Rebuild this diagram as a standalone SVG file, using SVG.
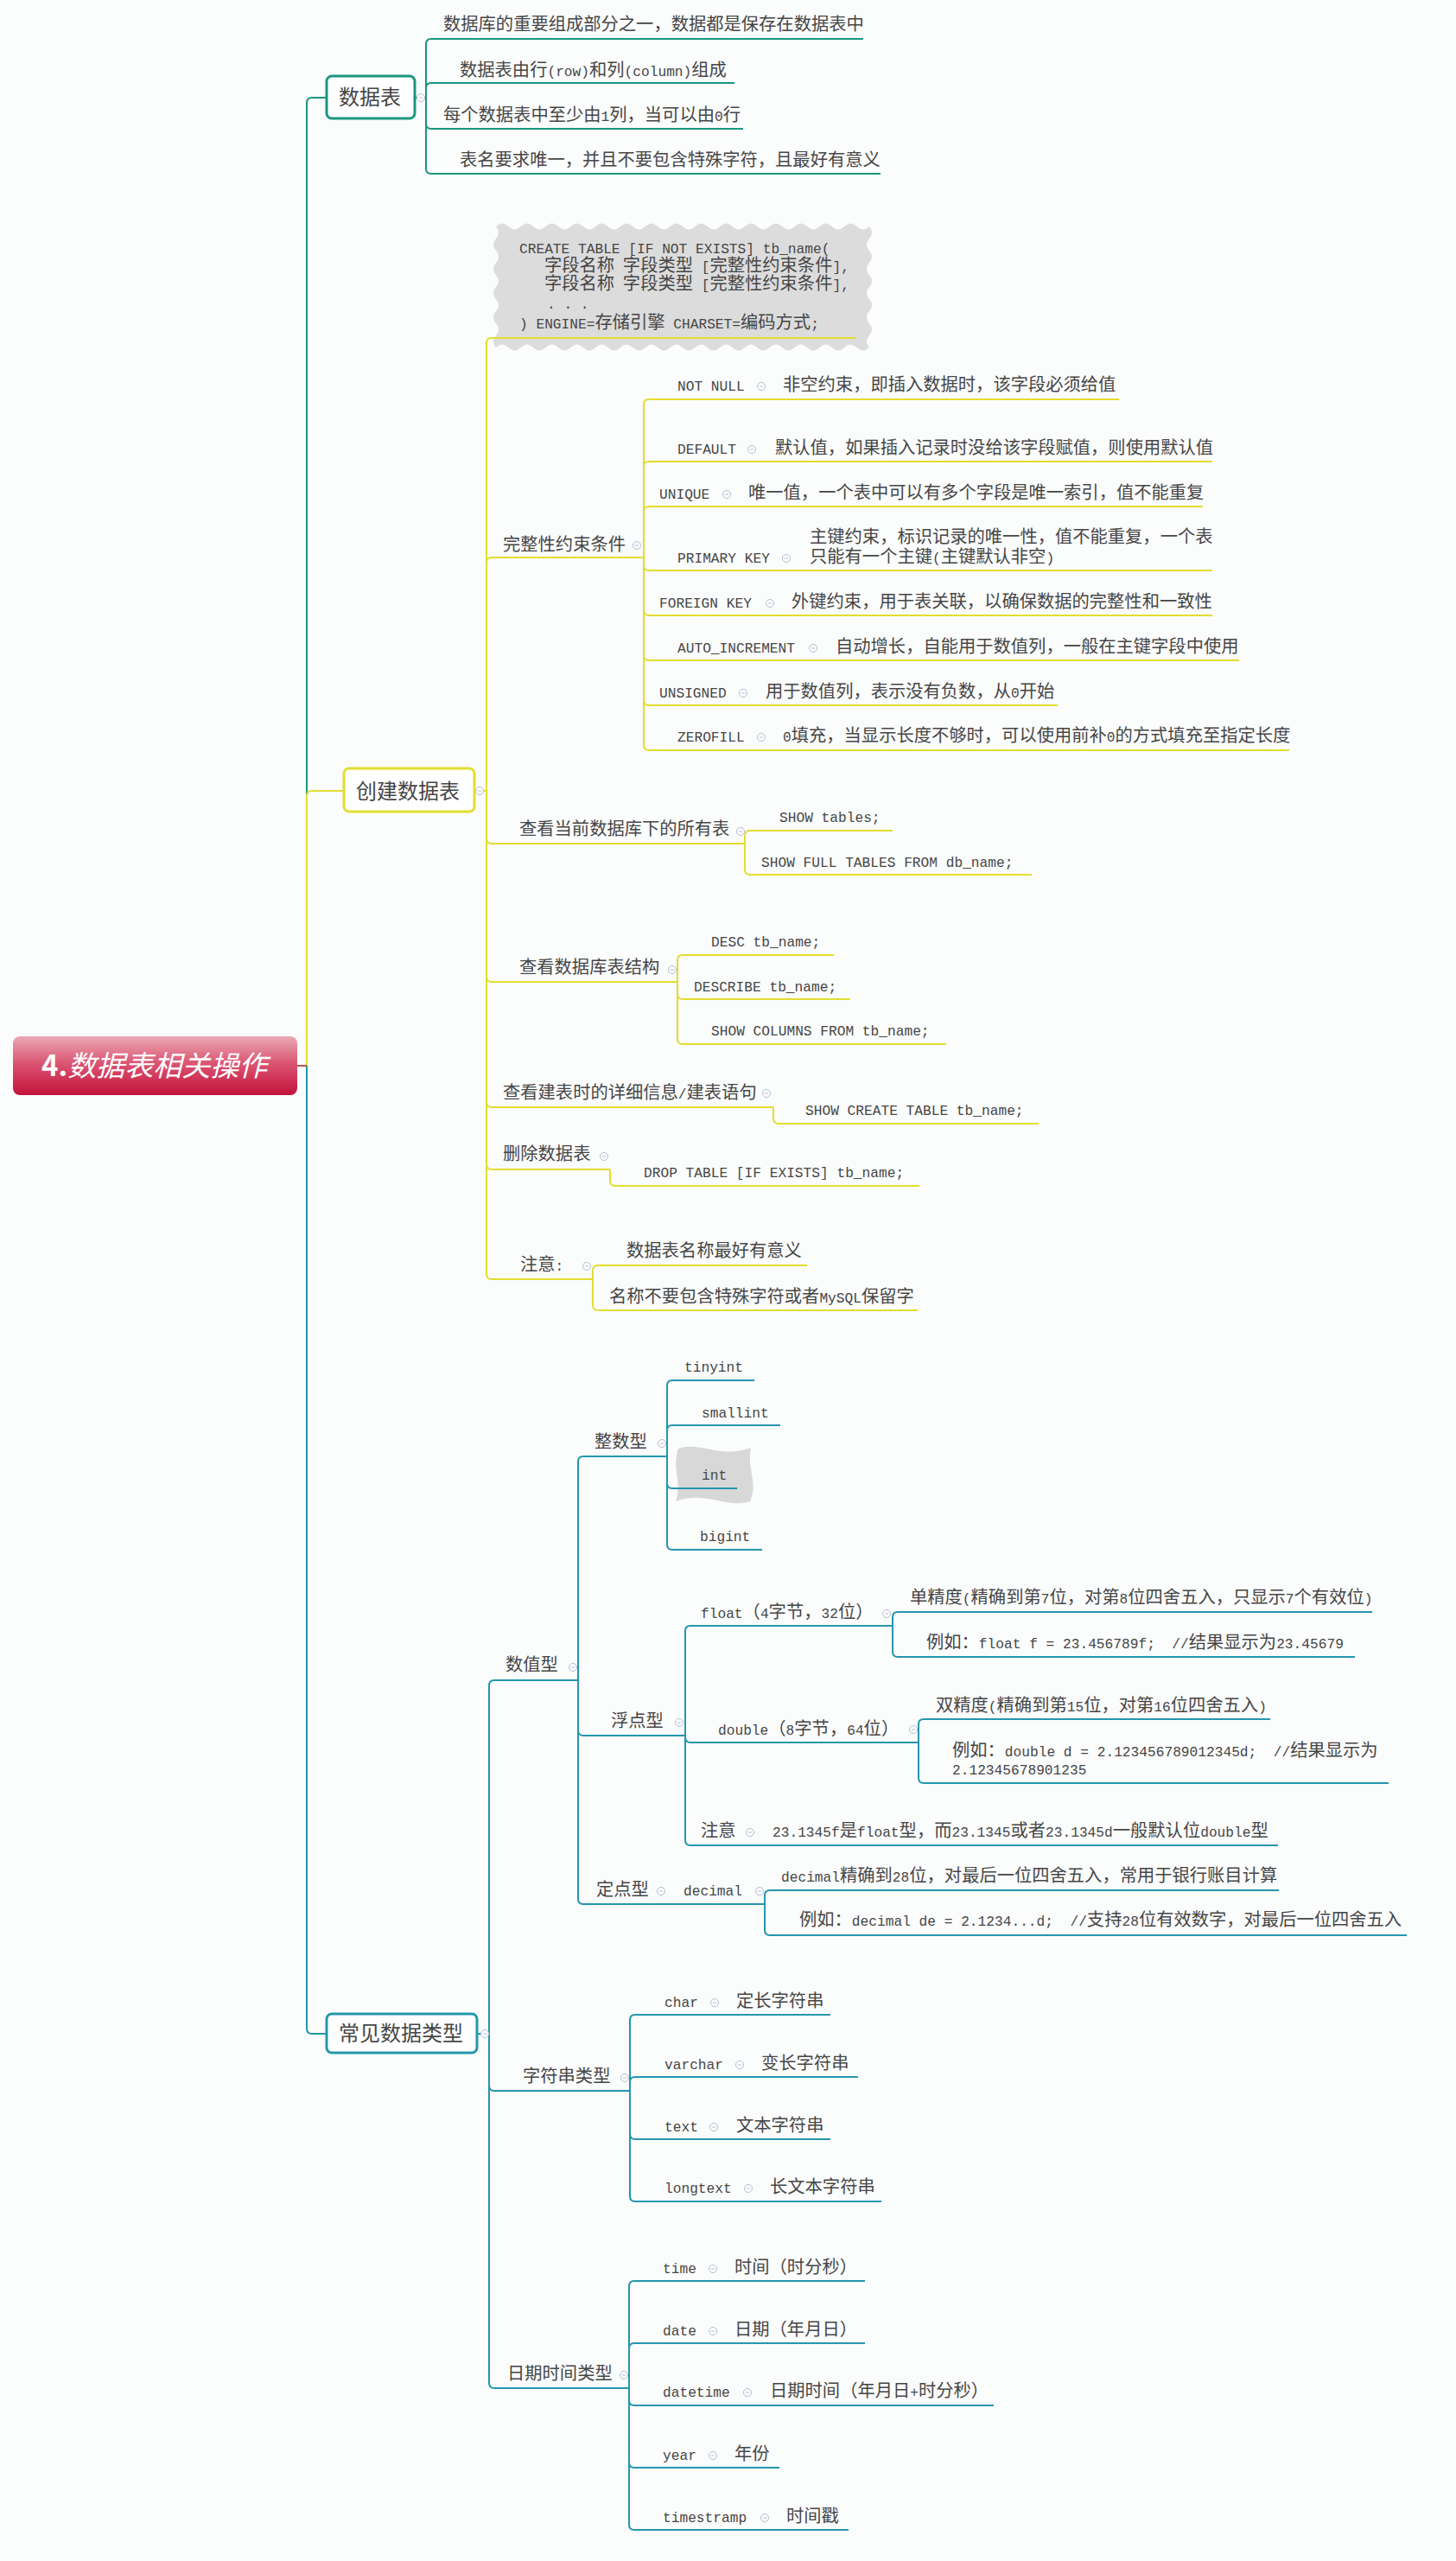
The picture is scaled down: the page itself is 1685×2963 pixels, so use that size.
<svg xmlns="http://www.w3.org/2000/svg" xmlns:xlink="http://www.w3.org/1999/xlink" width="1685" height="2963" viewBox="0 0 1685 2963">
<style>
.t{font-family:"Noto Sans CJK SC","Liberation Sans",sans-serif;font-size:20.3px;fill:#464646;white-space:pre}
.m{font-family:"Liberation Mono","Noto Sans CJK SC",monospace;font-size:16.2px}
.bx{font-size:24px}
.l{fill:none;stroke-width:2}
.lg{stroke:#18977f}
.ly{stroke:#e2de30}
.lb{stroke:#2497ad}
</style>
<defs>
<linearGradient id="rg" x1="0" y1="0" x2="0" y2="1">
<stop offset="0" stop-color="#ebaab6"/>
<stop offset="0.45" stop-color="#db5673"/>
<stop offset="1" stop-color="#c3123b"/>
</linearGradient>
<g id="col"><circle cx="0" cy="0" r="4.5" fill="#fff" stroke="#b3bbd3" stroke-width="1"/><path d="M-2.3,0H2.3" stroke="#b3bbd3" stroke-width="1"/></g>
</defs>
<rect width="1685" height="2963" fill="#fbfcfc"/>

<g id="connectors">
<path class="l lg" d="M355,1233V119Q355,113 361,113H378"/>
<path class="l lb" d="M355,1233V2347Q355,2353 361,2353H378"/>
<path class="l ly" d="M355,1233V921Q355,915 361,915H398"/>
<path class="l" stroke="#b5574e" d="M344,1233H355"/>
<g class="l lg">
<path d="M480,113H493"/>
<path d="M493,113V51Q493,45 499,45H999"/>
<path d="M493,113V102Q493,96 499,96H850"/>
<path d="M493,113V143Q493,149 499,149H860"/>
<path d="M493,113V195Q493,201 499,201H1019"/>
</g>
<g class="l ly">
<path d="M549,915H563"/>
<path d="M563,915V397Q563,391 569,391H991"/>
<path d="M563,915V651Q563,645 569,645H745"/>
<path d="M563,915V970Q563,976 569,976H862"/>
<path d="M563,915V1130Q563,1136 569,1136H784"/>
<path d="M563,915V1275Q563,1281 569,1281H895"/>
<path d="M563,915V1347Q563,1353 569,1353H706"/>
<path d="M563,915V1474Q563,1480 569,1480H686"/>
<path d="M745,645V468Q745,462 751,462H1295"/>
<path d="M745,645V540Q745,534 751,534H1403"/>
<path d="M745,645V592Q745,586 751,586H1392"/>
<path d="M745,645V654Q745,660 751,660H1403"/>
<path d="M745,645V706Q745,712 751,712H1403"/>
<path d="M745,645V758Q745,764 751,764H1434"/>
<path d="M745,645V810Q745,816 751,816H1224"/>
<path d="M745,645V862Q745,868 751,868H1492"/>
<path d="M862,976V967Q862,961 868,961H1033"/>
<path d="M862,976V1006Q862,1012 868,1012H1194"/>
<path d="M784,1136V1111Q784,1105 790,1105H965"/>
<path d="M784,1136V1150Q784,1156 790,1156H984"/>
<path d="M784,1136V1202Q784,1208 790,1208H1095"/>
<path d="M895,1281V1294Q895,1300 901,1300H1202"/>
<path d="M706,1353V1366Q706,1372 712,1372H1064"/>
<path d="M686,1480V1470Q686,1464 692,1464H934"/>
<path d="M686,1480V1510Q686,1516 692,1516H1062"/>
</g>
<g class="l lb">
<path d="M552,2353H566"/>
<path d="M566,2353V1950Q566,1944 572,1944H669"/>
<path d="M566,2353V2413Q566,2419 572,2419H729"/>
<path d="M566,2353V2757Q566,2763 572,2763H728"/>
<path d="M669,1944V1691Q669,1685 675,1685H772"/>
<path d="M669,1944V2002Q669,2008 675,2008H793"/>
<path d="M669,1944V2197Q669,2203 675,2203H885"/>
<path d="M772,1685V1603Q772,1597 778,1597H873"/>
<path d="M772,1685V1655Q772,1649 778,1649H903"/>
<path d="M772,1685V1716Q772,1722 778,1722H853"/>
<path d="M772,1685V1787Q772,1793 778,1793H882"/>
<path d="M793,2008V1887Q793,1881 799,1881H1033"/>
<path d="M793,2008V2010Q793,2016 799,2016H1063"/>
<path d="M793,2008V2129Q793,2135 799,2135H1479"/>
<path d="M1033,1881V1871Q1033,1865 1039,1865H1588"/>
<path d="M1033,1881V1911Q1033,1917 1039,1917H1568"/>
<path d="M1063,2016V1995Q1063,1989 1069,1989H1470"/>
<path d="M1063,2016V2057Q1063,2063 1069,2063H1607"/>
<path d="M885,2203V2193Q885,2187 891,2187H1480"/>
<path d="M885,2203V2233Q885,2239 891,2239H1628"/>
<path d="M729,2419V2337Q729,2331 735,2331H961"/>
<path d="M729,2419V2409Q729,2403 735,2403H993"/>
<path d="M729,2419V2469Q729,2475 735,2475H961"/>
<path d="M729,2419V2541Q729,2547 735,2547H1020"/>
<path d="M728,2763V2645Q728,2639 734,2639H1001"/>
<path d="M728,2763V2717Q728,2711 734,2711H1001"/>
<path d="M728,2763V2777Q728,2783 734,2783H1150"/>
<path d="M728,2763V2849Q728,2855 734,2855H902"/>
<path d="M728,2763V2921Q728,2927 734,2927H982"/>
</g>
</g>

<g id="root">
<rect x="15" y="1199" width="329" height="68" rx="8" fill="url(#rg)"/>
<text x="48" y="1245" font-family="'Noto Sans CJK SC','Liberation Sans',sans-serif" font-size="33" fill="#fff"><tspan font-weight="bold">4.</tspan><tspan font-style="italic">数据表相关操作</tspan></text>
</g>

<g id="n-shujubiao">
<rect x="378" y="88" width="102" height="49" rx="6" fill="#fff" stroke="#18977f" stroke-width="3"/>
<text class="t bx" x="392" y="121">数据表</text>
<use href="#col" x="487" y="113"/>
</g>
<g id="n-sj1"><text class="t" x="513" y="35">数据库的重要组成部分之一，数据都是保存在数据表中</text></g>
<g id="n-sj2"><text class="t" x="532" y="88">数据表由行<tspan class="m">(row)</tspan>和列<tspan class="m">(column)</tspan>组成</text></g>
<g id="n-sj3"><text class="t" x="513" y="140">每个数据表中至少由<tspan class="m">1</tspan>列，当可以由<tspan class="m">0</tspan>行</text></g>
<g id="n-sj4"><text class="t" x="532" y="192">表名要求唯一，并且不要包含特殊字符，且最好有意义</text></g>

<g id="n-create">
<rect x="398" y="889" width="151" height="50" rx="6" fill="#fff" stroke="#e2de30" stroke-width="3"/>
<text class="t bx" x="412" y="924">创建数据表</text>
<use href="#col" x="555" y="915"/>
</g>

<g id="n-code">
<path d="M574,262q7.2,-7 14.4,0t14.4,0t14.4,0t14.4,0t14.4,0t14.4,0t14.4,0t14.4,0t14.4,0t14.4,0t14.4,0t14.4,0t14.4,0t14.4,0t14.4,0t14.4,0t14.4,0t14.4,0t14.4,0t14.4,0t14.4,0t14.4,0t14.4,0t14.4,0t14.4,0t14.4,0t14.4,0t14.4,0t14.4,0t14.4,0q6,7 0,14t0,14t0,14t0,14t0,14t0,14t0,14t0,14t0,14t0,14q-7.2,7 -14.4,0t-14.4,0t-14.4,0t-14.4,0t-14.4,0t-14.4,0t-14.4,0t-14.4,0t-14.4,0t-14.4,0t-14.4,0t-14.4,0t-14.4,0t-14.4,0t-14.4,0t-14.4,0t-14.4,0t-14.4,0t-14.4,0t-14.4,0t-14.4,0t-14.4,0t-14.4,0t-14.4,0t-14.4,0t-14.4,0t-14.4,0t-14.4,0t-14.4,0t-14.4,0q-6,-7 0,-14t0,-14t0,-14t0,-14t0,-14t0,-14t0,-14t0,-14t0,-14t0,-14Z" fill="#dcdcdc"/>
<path class="l ly" d="M569,391H991"/>
<text class="t"><tspan class="m" x="601" y="293">CREATE TABLE [IF NOT EXISTS] tb_name(</tspan><tspan x="630" y="314">字段名称<tspan class="m"> </tspan>字段类型<tspan class="m"> [</tspan>完整性约束条件<tspan class="m">],</tspan></tspan><tspan x="630" y="335">字段名称<tspan class="m"> </tspan>字段类型<tspan class="m"> [</tspan>完整性约束条件<tspan class="m">],</tspan></tspan><tspan class="m" x="633" y="357">. . .</tspan><tspan x="601" y="380"><tspan class="m">) ENGINE=</tspan>存储引擎<tspan class="m"> CHARSET=</tspan>编码方式<tspan class="m">;</tspan></tspan></text>
</g>

<g id="n-wanzheng"><text class="t" x="582" y="637">完整性约束条件</text><use href="#col" x="737" y="631"/></g>
<g id="n-notnull"><text class="t m" x="784" y="452">NOT NULL</text><use href="#col" x="881" y="447"/><text class="t" x="906" y="452">非空约束，即插入数据时，该字段必须给值</text></g>
<g id="n-default"><text class="t m" x="784" y="525">DEFAULT</text><use href="#col" x="870" y="520"/><text class="t" x="897" y="525">默认值，如果插入记录时没给该字段赋值，则使用默认值</text></g>
<g id="n-unique"><text class="t m" x="763" y="577">UNIQUE</text><use href="#col" x="841" y="572"/><text class="t" x="866" y="577">唯一值，一个表中可以有多个字段是唯一索引，值不能重复</text></g>
<g id="n-primary"><text class="t m" x="784" y="651">PRIMARY KEY</text><use href="#col" x="910" y="646"/><text class="t"><tspan x="937" y="628">主键约束，标识记录的唯一性，值不能重复，一个表</tspan><tspan x="937" y="651">只能有一个主键<tspan class="m">(</tspan>主键默认非空<tspan class="m">)</tspan></tspan></text></g>
<g id="n-foreign"><text class="t m" x="763" y="703">FOREIGN KEY</text><use href="#col" x="891" y="698"/><text class="t" x="916" y="703">外键约束，用于表关联，以确保数据的完整性和一致性</text></g>
<g id="n-auto"><text class="t m" x="784" y="755">AUTO_INCREMENT</text><use href="#col" x="941" y="750"/><text class="t" x="967" y="755">自动增长，自能用于数值列，一般在主键字段中使用</text></g>
<g id="n-unsigned"><text class="t m" x="763" y="807">UNSIGNED</text><use href="#col" x="860" y="802"/><text class="t" x="886" y="807">用于数值列，表示没有负数，从<tspan class="m">0</tspan>开始</text></g>
<g id="n-zerofill"><text class="t m" x="784" y="858">ZEROFILL</text><use href="#col" x="881" y="853"/><text class="t" x="906" y="858"><tspan class="m">0</tspan>填充，当显示长度不够时，可以使用前补<tspan class="m">0</tspan>的方式填充至指定长度</text></g>

<g id="n-showall"><text class="t" x="601" y="966">查看当前数据库下的所有表</text><use href="#col" x="857" y="962"/></g>
<g id="n-showtables"><text class="t m" x="902" y="951">SHOW tables;</text></g>
<g id="n-showfull"><text class="t m" x="881" y="1003">SHOW FULL TABLES FROM db_name;</text></g>
<g id="n-struct"><text class="t" x="601" y="1126">查看数据库表结构</text><use href="#col" x="778" y="1122"/></g>
<g id="n-desc"><text class="t m" x="823" y="1095">DESC tb_name;</text></g>
<g id="n-describe"><text class="t m" x="803" y="1147">DESCRIBE tb_name;</text></g>
<g id="n-showcol"><text class="t m" x="823" y="1198">SHOW COLUMNS FROM tb_name;</text></g>
<g id="n-createinfo"><text class="t" x="582" y="1271">查看建表时的详细信息<tspan class="m">/</tspan>建表语句</text><use href="#col" x="887" y="1265"/></g>
<g id="n-showcreate"><text class="t m" x="932" y="1290">SHOW CREATE TABLE tb_name;</text></g>
<g id="n-drop"><text class="t" x="582" y="1342">删除数据表</text><use href="#col" x="699" y="1338"/></g>
<g id="n-dropsql"><text class="t m" x="745" y="1362">DROP TABLE [IF EXISTS] tb_name;</text></g>
<g id="n-note1"><text class="t" x="602" y="1470">注意<tspan class="m">:</tspan></text><use href="#col" x="679" y="1465"/></g>
<g id="n-note1a"><text class="t" x="725" y="1454">数据表名称最好有意义</text></g>
<g id="n-note1b"><text class="t" x="705" y="1507">名称不要包含特殊字符或者<tspan class="m">MySQL</tspan>保留字</text></g>

<g id="n-types">
<rect x="378" y="2330" width="174" height="45" rx="6" fill="#fff" stroke="#2497ad" stroke-width="3"/>
<text class="t bx" x="392" y="2361">常见数据类型</text>
<use href="#col" x="561" y="2353"/>
</g>
<g id="n-numeric"><text class="t" x="585" y="1933">数值型</text><use href="#col" x="663" y="1929"/></g>
<g id="n-integer"><text class="t" x="688" y="1675">整数型</text><use href="#col" x="766" y="1670"/></g>
<g id="n-tinyint"><text class="t m" x="792" y="1587">tinyint</text></g>
<g id="n-smallint"><text class="t m" x="812" y="1640">smallint</text></g>
<g id="n-int"><path d="M785,1676C810,1667 832,1688 869,1675C864,1700 878,1716 868,1737C842,1746 815,1724 782,1737C790,1716 777,1700 785,1676Z" fill="#d8d8d8"/><path class="l lb" d="M778,1722H853"/><text class="t m" x="812" y="1712">int</text></g>
<g id="n-bigint"><text class="t m" x="810" y="1783">bigint</text></g>
<g id="n-floatpt"><text class="t" x="707" y="1998">浮点型</text><use href="#col" x="786" y="1993"/></g>
<g id="n-float"><text class="t" x="811" y="1872"><tspan class="m">float</tspan>（<tspan class="m">4</tspan>字节，<tspan class="m">32</tspan>位）</text><use href="#col" x="1026" y="1867"/></g>
<g id="n-float1"><text class="t" x="1053" y="1855">单精度<tspan class="m">(</tspan>精确到第<tspan class="m">7</tspan>位，对第<tspan class="m">8</tspan>位四舍五入，只显示<tspan class="m">7</tspan>个有效位<tspan class="m">)</tspan></text></g>
<g id="n-float2"><text class="t" x="1072" y="1907">例如：<tspan class="m">float f = 23.456789f;  //</tspan>结果显示为<tspan class="m">23.45679</tspan></text></g>
<g id="n-double"><text class="t" x="831" y="2007"><tspan class="m">double</tspan>（<tspan class="m">8</tspan>字节，<tspan class="m">64</tspan>位）</text><use href="#col" x="1057" y="2001"/></g>
<g id="n-double1"><text class="t" x="1083" y="1980">双精度<tspan class="m">(</tspan>精确到第<tspan class="m">15</tspan>位，对第<tspan class="m">16</tspan>位四舍五入<tspan class="m">)</tspan></text></g>
<g id="n-double2"><text class="t"><tspan x="1102" y="2032">例如：<tspan class="m">double d = 2.123456789012345d;  //</tspan>结果显示为</tspan><tspan class="m" x="1102" y="2053">2.12345678901235</tspan></text></g>
<g id="n-note2"><text class="t" x="811" y="2125">注意</text><use href="#col" x="868" y="2120"/><text class="t" x="894" y="2125"><tspan class="m">23.1345f</tspan>是<tspan class="m">float</tspan>型，而<tspan class="m">23.1345</tspan>或者<tspan class="m">23.1345d</tspan>一般默认位<tspan class="m">double</tspan>型</text></g>
<g id="n-fixed"><text class="t" x="690" y="2193">定点型</text><use href="#col" x="765" y="2188"/><text class="t m" x="791" y="2193">decimal</text><use href="#col" x="879" y="2188"/></g>
<g id="n-decimal1"><text class="t" x="904" y="2177"><tspan class="m">decimal</tspan>精确到<tspan class="m">28</tspan>位，对最后一位四舍五入，常用于银行账目计算</text></g>
<g id="n-decimal2"><text class="t" x="925" y="2228">例如：<tspan class="m">decimal de = 2.1234...d;  //</tspan>支持<tspan class="m">28</tspan>位有效数字，对最后一位四舍五入</text></g>

<g id="n-string"><text class="t" x="605" y="2409">字符串类型</text><use href="#col" x="723" y="2404"/></g>
<g id="n-char"><text class="t m" x="769" y="2322">char</text><use href="#col" x="827" y="2317"/><text class="t" x="852" y="2322">定长字符串</text></g>
<g id="n-varchar"><text class="t m" x="769" y="2394">varchar</text><use href="#col" x="856" y="2389"/><text class="t" x="881" y="2394">变长字符串</text></g>
<g id="n-text"><text class="t m" x="769" y="2466">text</text><use href="#col" x="826" y="2461"/><text class="t" x="852" y="2466">文本字符串</text></g>
<g id="n-longtext"><text class="t m" x="769" y="2537">longtext</text><use href="#col" x="866" y="2532"/><text class="t" x="891" y="2537">长文本字符串</text></g>

<g id="n-datetime-type"><text class="t" x="587" y="2753">日期时间类型</text><use href="#col" x="722" y="2748"/></g>
<g id="n-time"><text class="t m" x="767" y="2630">time</text><use href="#col" x="825" y="2625"/><text class="t" x="850" y="2630">时间（时分秒）</text></g>
<g id="n-date"><text class="t m" x="767" y="2702">date</text><use href="#col" x="825" y="2697"/><text class="t" x="850" y="2702">日期（年月日）</text></g>
<g id="n-datetime"><text class="t m" x="767" y="2773">datetime</text><use href="#col" x="865" y="2768"/><text class="t" x="891" y="2773">日期时间（年月日<tspan class="m">+</tspan>时分秒）</text></g>
<g id="n-year"><text class="t m" x="767" y="2846">year</text><use href="#col" x="825" y="2841"/><text class="t" x="850" y="2846">年份</text></g>
<g id="n-timestamp"><text class="t m" x="767" y="2918">timestramp</text><use href="#col" x="885" y="2913"/><text class="t" x="910" y="2918">时间戳</text></g>
</svg>
